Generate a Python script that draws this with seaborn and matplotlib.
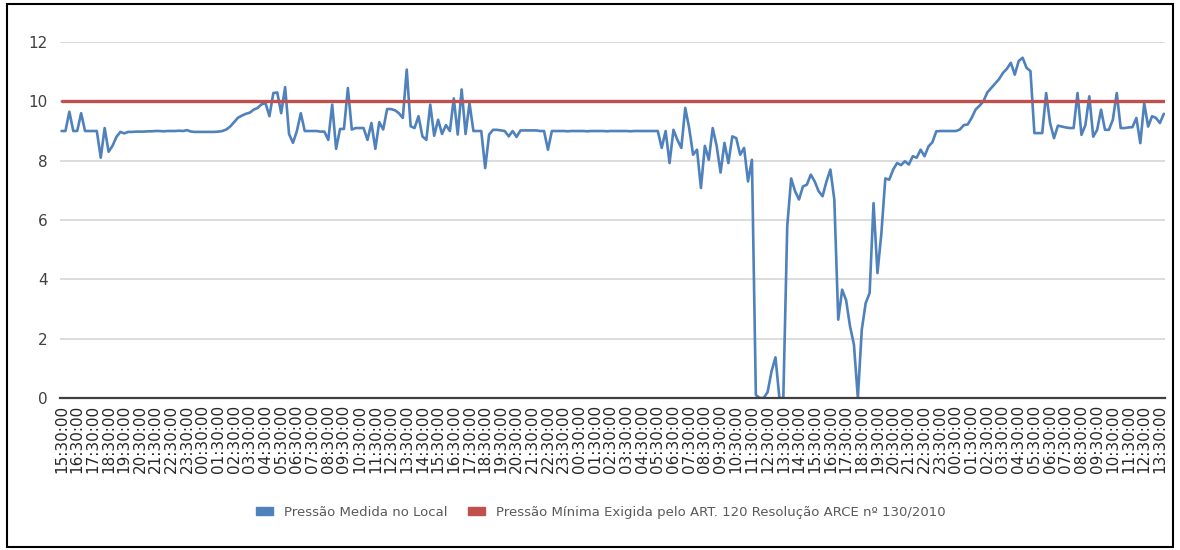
import pandas as pd
import matplotlib.pyplot as plt
import seaborn as sns
from matplotlib.patches import Patch, Rectangle

# leituras a cada 15 minutos a partir de 15:30:00 (4 por hora)
pressao_medida = [
    9.0, 9.0, 9.65, 9.0,   9.0, 9.6, 9.0, 9.0,
    9.0, 9.0, 8.1, 9.1,    8.3, 8.5, 8.8, 8.97,
    8.92, 8.97, 8.97, 8.98,   8.98, 8.98, 8.99, 8.99,
    9.0, 9.0, 8.99, 9.0,   9.0, 9.0, 9.01, 9.0,
    9.03, 8.98, 8.97, 8.97,   8.97, 8.97, 8.97, 8.97,
    8.98, 9.0, 9.05, 9.15,   9.3, 9.45, 9.52, 9.58,
    9.62, 9.72, 9.78, 9.9,   9.94, 9.5, 10.28, 10.3,
    9.6, 10.48, 8.9, 8.6,   9.0, 9.6, 9.0, 9.0,
    9.0, 9.0, 8.98, 8.98,   8.7, 9.89, 8.4, 9.07,
    9.07, 10.45, 9.05, 9.1,   9.1, 9.1, 8.7, 9.27,
    8.4, 9.3, 9.05, 9.74,   9.74, 9.7, 9.6, 9.44,
    11.07, 9.16, 9.1, 9.5,   8.82, 8.7, 9.89, 8.84,
    9.38, 8.9, 9.2, 9.0,   10.1, 8.88, 10.4, 8.9,
    9.94, 9.0, 9.0, 9.0,   7.75, 8.88, 9.04, 9.04,
    9.02, 9.0, 8.82, 9.0,   8.8, 9.02, 9.02, 9.02,
    9.02, 9.02, 9.0, 9.0,   8.37, 9.0, 9.0, 9.0,
    9.0, 8.99, 9.0, 9.0,   9.0, 9.0, 8.99, 9.0,
    9.0, 9.0, 9.0, 8.99,   9.0, 9.0, 9.0, 9.0,
    9.0, 8.99, 9.0, 9.0,   9.0, 9.0, 9.0, 9.0,
    9.0, 8.43, 9.0, 7.92,   9.04, 8.7, 8.43, 9.78,
    9.1, 8.2, 8.37, 7.08,   8.5, 8.03, 9.1, 8.5,
    7.6, 8.6, 7.92, 8.82,   8.76, 8.2, 8.43, 7.3,
    8.03, 0.1, 0.0, 0.0,   0.2, 0.9, 1.37, 0.0,
    0.0, 5.8, 7.4, 6.97,   6.69, 7.13, 7.19, 7.53,
    7.3, 6.97, 6.8, 7.3,   7.7, 6.69, 2.64, 3.65,
    3.3, 2.42, 1.8, 0.0,   2.3, 3.2, 3.54, 6.57,
    4.21, 5.56, 7.4, 7.36,   7.7, 7.92, 7.85, 7.98,
    7.87, 8.15, 8.1, 8.37,   8.15, 8.48, 8.62, 8.99,
    9.0, 9.0, 9.0, 9.0,   9.0, 9.05, 9.2, 9.22,
    9.44, 9.72, 9.85, 10.0,   10.3, 10.45, 10.6, 10.75,
    10.96, 11.1, 11.3, 10.9,   11.36, 11.47, 11.13, 11.02,
    8.93, 8.93, 8.93, 10.28,   9.27, 8.76, 9.18, 9.15,
    9.12, 9.1, 9.1, 10.28,   8.87, 9.2, 10.17, 8.81,
    9.04, 9.72, 9.04, 9.04,   9.38, 10.28, 9.1, 9.1,
    9.12, 9.13, 9.44, 8.59,   9.94, 9.15, 9.5, 9.44,
    9.27, 9.58,
]
pressao_minima = 10.0
rotulos_horas = pd.date_range('2010-01-01 15:30', periods=71, freq='h').strftime('%H:%M:%S')

nome_medida = 'Pressão Medida no Local'
nome_minima = 'Pressão Mínima Exigida pelo ART. 120 Resolução ARCE nº 130/2010'

df = pd.DataFrame({'pressao': pressao_medida})
df['amostra'] = range(len(df))
df['minima'] = pressao_minima

sns.set_theme(style='white')
plt.rcParams['font.family'] = ['DejaVu Sans']

fig = plt.figure(figsize=(11.8, 5.5), dpi=100)
ax = fig.add_axes([0.0508, 0.2764, 0.9365, 0.6472])

sns.lineplot(data=df, x='amostra', y='pressao', color='#4f81bd', lw=1.9, ax=ax)
sns.lineplot(data=df, x='amostra', y='minima', color='#c0504d', lw=2.4, ax=ax)

ax.set_ylim(0, 12)
ax.set_yticks(range(0, 13, 2))
ax.set_xlim(-0.4, len(df) - 0.7)
ax.set_xticks(range(0, 281, 4))
ax.set_xticklabels(rotulos_horas, rotation=90, fontsize=11, color='#262626')
ax.tick_params(axis='y', length=0, pad=9, labelsize=11, labelcolor='#404040')
ax.tick_params(axis='x', length=0, pad=5)
ax.set_xlabel('')
ax.set_ylabel('')
ax.grid(axis='y', color='#d9d9d9', lw=1.3)
ax.set_axisbelow(True)
for lado in ['top', 'left', 'right']:
    ax.spines[lado].set_visible(False)
ax.spines['bottom'].set_color('#404040')
ax.spines['bottom'].set_linewidth(1.6)

handles = [Patch(color='#4f81bd', label=nome_medida),
           Patch(color='#c0504d', label=nome_minima)]
fig.legend(handles=handles, loc='center', bbox_to_anchor=(0.509, 0.069), ncol=2,
           frameon=False, fontsize=9.5, handlelength=1.3, handleheight=0.55,
           columnspacing=1.6, labelcolor='#595959')

fig.add_artist(Rectangle((0.006, 0.006), 0.988, 0.987, transform=fig.transFigure,
                         fill=False, ec='black', lw=1.5))

fig.savefig('out.png', dpi=100)
